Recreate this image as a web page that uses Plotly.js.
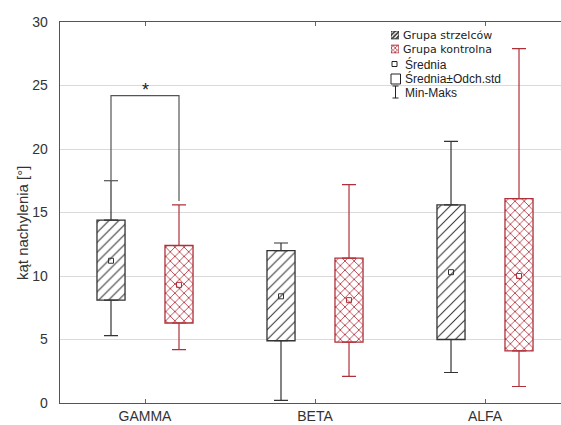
<!DOCTYPE html>
<html>
<head>
<meta charset="utf-8">
<script src="https://cdn.plot.ly/plotly-3.0.1.min.js"></script>
<style>html,body{margin:0;padding:0;background:#fff;}#chart{width:561px;height:425px;}</style>
</head>
<body>
<div id="chart"></div>
<script>
// ---- data ----
const categories = ['GAMMA', 'BETA', 'ALFA'];
const groupNames = ['Grupa strzelców', 'Grupa kontrolna'];
// Grupa strzelców
const strzMin  = [5.3, 0.2, 2.4];
const strzLow  = [8.1, 4.9, 5.0];   // mean - SD
const strzMean = [11.2, 8.4, 10.3];
const strzHigh = [14.4, 12.0, 15.6]; // mean + SD
const strzMax  = [17.5, 12.6, 20.6];
// Grupa kontrolna
const kontrMin  = [4.2, 2.1, 1.3];
const kontrLow  = [6.3, 4.8, 4.1];
const kontrMean = [9.3, 8.1, 10.0];
const kontrHigh = [12.4, 11.4, 16.1];
const kontrMax  = [15.6, 17.2, 27.9];
// significance bracket (GAMMA)
const bracketTop = 24.2;
const bracketRightEnd = 15.9;
const yTicks = [0, 5, 10, 15, 20, 25, 30];
const legendLabels = ['Średnia', 'Średnia±Odch.std', 'Min-Maks'];

// ---- styling ----
const BLACK = '#333333';
const RED = '#b0303a';
const offsets = [-0.2, 0.2];
const boxW = 0.165;
const FONT = 'Liberation Sans, Arial, sans-serif';

const groups = [
  {name: groupNames[0], min: strzMin, low: strzLow, mean: strzMean, high: strzHigh, max: strzMax,
   color: BLACK, pattern: {shape: '/', fgcolor: BLACK, bgcolor: '#ffffff', size: 7, solidity: 0.15, fillmode: 'replace'},
   swatch: {shape: '/', fgcolor: BLACK, bgcolor: '#ffffff', size: 3, solidity: 0.55, fillmode: 'replace'}},
  {name: groupNames[1], min: kontrMin, low: kontrLow, mean: kontrMean, high: kontrHigh, max: kontrMax,
   color: RED, pattern: {shape: 'x', fgcolor: RED, bgcolor: '#ffffff', size: 6.5, solidity: 0.24, fillmode: 'replace'},
   swatch: {shape: 'x', fgcolor: RED, bgcolor: '#ffffff', size: 3, solidity: 0.45, fillmode: 'replace'}}
];

const traces = [];
groups.forEach((g, gi) => {
  const xs = categories.map((c, i) => i + offsets[gi]);
  traces.push({
    type: 'bar', x: xs, base: g.low, y: g.high.map((h, i) => h - g.low[i]),
    width: boxW, name: g.name, showlegend: false, hoverinfo: 'skip',
    marker: {color: '#ffffff', pattern: g.pattern, line: {color: g.color, width: 1.3}}
  });
});
groups.forEach((g, gi) => {
  const xs = categories.map((c, i) => i + offsets[gi]);
  // upper whisker
  traces.push({
    type: 'scatter', mode: 'markers', x: xs, y: g.high, showlegend: false, hoverinfo: 'skip',
    marker: {size: 1, opacity: 0},
    error_y: {type: 'data', symmetric: false, array: g.max.map((m, i) => m - g.high[i]),
              arrayminus: g.high.map(() => 0), color: g.color, thickness: 1.2, width: 7}
  });
  // lower whisker
  traces.push({
    type: 'scatter', mode: 'markers', x: xs, y: g.low, showlegend: false, hoverinfo: 'skip',
    marker: {size: 1, opacity: 0},
    error_y: {type: 'data', symmetric: false, array: g.low.map(() => 0),
              arrayminus: g.low.map((l, i) => l - g.min[i]), color: g.color, thickness: 1.2, width: 7}
  });
  // mean
  traces.push({
    type: 'scatter', mode: 'markers', x: xs, y: g.mean, showlegend: false, hoverinfo: 'skip',
    marker: {symbol: 'square-open', size: 5, color: g.color, line: {width: 1, color: g.color}}
  });
});
// significance bracket
traces.push({
  type: 'scatter', mode: 'lines', hoverinfo: 'skip', showlegend: false,
  x: [offsets[0], offsets[0], offsets[1], offsets[1]],
  y: [strzMax[0], bracketTop, bracketTop, bracketRightEnd],
  line: {color: '#555555', width: 1.2}
});
// legend swatches (inset axes)
groups.forEach((g, gi) => {
  traces.push({
    type: 'bar', xaxis: 'x2', yaxis: 'y2', x: [0.5], base: [gi === 0 ? 15 : 0.5], y: [8],
    width: [1], showlegend: false, hoverinfo: 'skip',
    marker: {color: '#ffffff', pattern: g.swatch, line: {color: g.color, width: 1}}
  });
});

// pixel helpers for legend decoration (paper coords)
const L = 60, R = 561, T = 22, B = 403;
const px = v => (v - L) / (R - L);
const py = v => (B - v) / (B - T);

const annotations = [
  {xref: 'paper', yref: 'paper', x: px(401), y: py(35), xanchor: 'left', yanchor: 'middle', showarrow: false,
   text: groupNames[0], font: {family: 'DejaVu Sans', size: 11, color: '#222'}},
  {xref: 'paper', yref: 'paper', x: px(401), y: py(49.7), xanchor: 'left', yanchor: 'middle', showarrow: false,
   text: groupNames[1], font: {family: 'DejaVu Sans', size: 11, color: '#222'}},
  {xref: 'paper', yref: 'paper', x: px(403), y: py(64), xanchor: 'left', yanchor: 'middle', showarrow: false,
   text: legendLabels[0], font: {family: FONT, size: 12, color: '#222'}},
  {xref: 'paper', yref: 'paper', x: px(403), y: py(79), xanchor: 'left', yanchor: 'middle', showarrow: false,
   text: legendLabels[1], font: {family: FONT, size: 12, color: '#222'}},
  {xref: 'paper', yref: 'paper', x: px(403), y: py(92.5), xanchor: 'left', yanchor: 'middle', showarrow: false,
   text: legendLabels[2], font: {family: FONT, size: 12, color: '#222'}},
  {xref: 'x', yref: 'y', x: 0, y: bracketTop, yanchor: 'bottom', yshift: -6, showarrow: false,
   text: '*', font: {family: FONT, size: 18, color: '#222'}},
  {xref: 'paper', yref: 'paper', x: px(23), y: py(223), xanchor: 'center', yanchor: 'middle', showarrow: false,
   textangle: -90, text: 'kąt nachylenia [°]', font: {family: FONT, size: 15, color: '#333'}}
];

const shapes = [
  {type: 'rect', xref: 'paper', yref: 'paper', x0: px(383), x1: px(503), y0: py(100), y1: py(28),
   fillcolor: '#ffffff', line: {width: 0}, layer: 'between'},
  {type: 'rect', xref: 'paper', yref: 'paper', x0: px(392), x1: px(397), y0: py(66.5), y1: py(61.5),
   line: {color: '#222', width: 1}},
  {type: 'rect', xref: 'paper', yref: 'paper', x0: px(391), x1: px(400.5), y0: py(84), y1: py(74),
   line: {color: '#222', width: 1}},
  {type: 'line', xref: 'paper', yref: 'paper', x0: px(395.5), x1: px(395.5), y0: py(98), y1: py(86),
   line: {color: '#222', width: 1}},
  {type: 'line', xref: 'paper', yref: 'paper', x0: px(392.5), x1: px(398.5), y0: py(86), y1: py(86),
   line: {color: '#222', width: 1}},
  {type: 'line', xref: 'paper', yref: 'paper', x0: px(392.5), x1: px(398.5), y0: py(98), y1: py(98),
   line: {color: '#222', width: 1}}
];

const layout = {
  width: 561, height: 425,
  margin: {l: L, r: 0, t: T, b: 425 - B},
  paper_bgcolor: '#ffffff', plot_bgcolor: '#ffffff',
  barmode: 'overlay', showlegend: false,
  font: {family: FONT, color: '#333'},
  xaxis: {
    range: [-0.5, 2.447], tickmode: 'array', tickvals: categories.map((c, i) => i), ticktext: categories,
    showgrid: false, zeroline: false, showline: true, linecolor: '#555', linewidth: 1.3,
    mirror: 'ticks', ticks: 'inside', ticklen: 4, tickcolor: '#666',
    tickfont: {family: FONT, size: 14, color: '#333'}, fixedrange: true
  },
  yaxis: {
    range: [0, 30], tickmode: 'array', tickvals: yTicks,
    showgrid: true, gridcolor: '#dadada', gridwidth: 1, zeroline: false,
    showline: true, linecolor: '#555', linewidth: 1.3, ticks: '', ticklabelstandoff: 8,
    tickfont: {family: FONT, size: 14, color: '#333'}, fixedrange: true
  },
  xaxis2: {domain: [px(391), px(399)], range: [0, 1], anchor: 'y2', visible: false, fixedrange: true},
  yaxis2: {domain: [py(53.5), py(31)], range: [0, 23], anchor: 'x2', visible: false, fixedrange: true},
  annotations: annotations,
  shapes: shapes
};

Plotly.newPlot('chart', traces, layout, {displayModeBar: false, staticPlot: true});
</script>
</body>
</html>
